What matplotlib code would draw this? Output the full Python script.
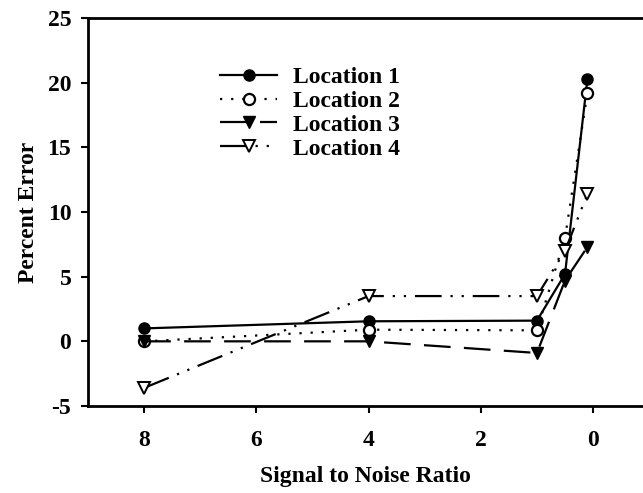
import matplotlib.pyplot as plt

# signal to noise ratio and percent error for each location
snr = [8, 4, 1, 0.5, 0.1]
loc1 = [1.0, 1.55, 1.6, 5.2, 20.3]
loc2 = [0.0, 0.9, 0.85, 8.0, 19.2]
loc3 = [0.0, 0.0, -0.9, 4.7, 7.3]
loc4 = [-3.6, 3.5, 3.5, 7.0, 11.4]
labels = ['Location 1', 'Location 2', 'Location 3', 'Location 4']

plt.rcParams['font.family'] = ['Liberation Serif', 'DejaVu Serif']
plt.rcParams['font.weight'] = 'bold'
plt.rcParams['axes.unicode_minus'] = False

fig = plt.figure(figsize=(6.43, 4.93), dpi=100)
ax = fig.add_axes([88/643, 87/493, 555/643, 388/493])

ms = 8
ax.plot(snr, loc1, color='black', lw=1.6, ls='-', marker='o', ms=ms,
        mfc='black', mec='black', label=labels[0])
ax.plot(snr, loc2, color='black', lw=1.6, ls=(0, (1, 4)), marker='o', ms=ms,
        mfc='white', mec='black', mew=1.6, label=labels[1])
ax.plot(snr, loc3, color='black', lw=1.6, ls=(0, (12, 6)), marker='v', ms=ms,
        mfc='black', mec='black', label=labels[2])
ax.plot(snr, loc4, color='black', lw=1.6, ls=(0, (12, 4, 1, 4, 1, 4)), marker='v',
        ms=ms, mfc='white', mec='black', mew=1.4, label=labels[3])

ax.set_xlim(9, -0.89)
ax.set_ylim(-5, 25)
ax.set_xticks([8, 6, 4, 2, 0])
ax.set_yticks([-5, 0, 5, 10, 15, 20, 25])

for s in ['left', 'bottom', 'top']:
    ax.spines[s].set_linewidth(2)
ax.spines['right'].set_visible(False)
ax.tick_params(direction='out', length=5, width=1.5, labelsize=17)
ax.tick_params(axis='x', pad=12)
ax.tick_params(axis='y', pad=7)

ax.set_xlabel('Signal to Noise Ratio', fontsize=17, fontweight='bold', labelpad=11)
ax.set_ylabel('Percent Error', fontsize=17, fontweight='bold', labelpad=6)

ax.legend(loc='upper left', bbox_to_anchor=(0.2, 0.93), frameon=False,
          fontsize=17, handlelength=2.4, handletextpad=0.7, labelspacing=0.1)

fig.savefig('out.png', dpi=100)
